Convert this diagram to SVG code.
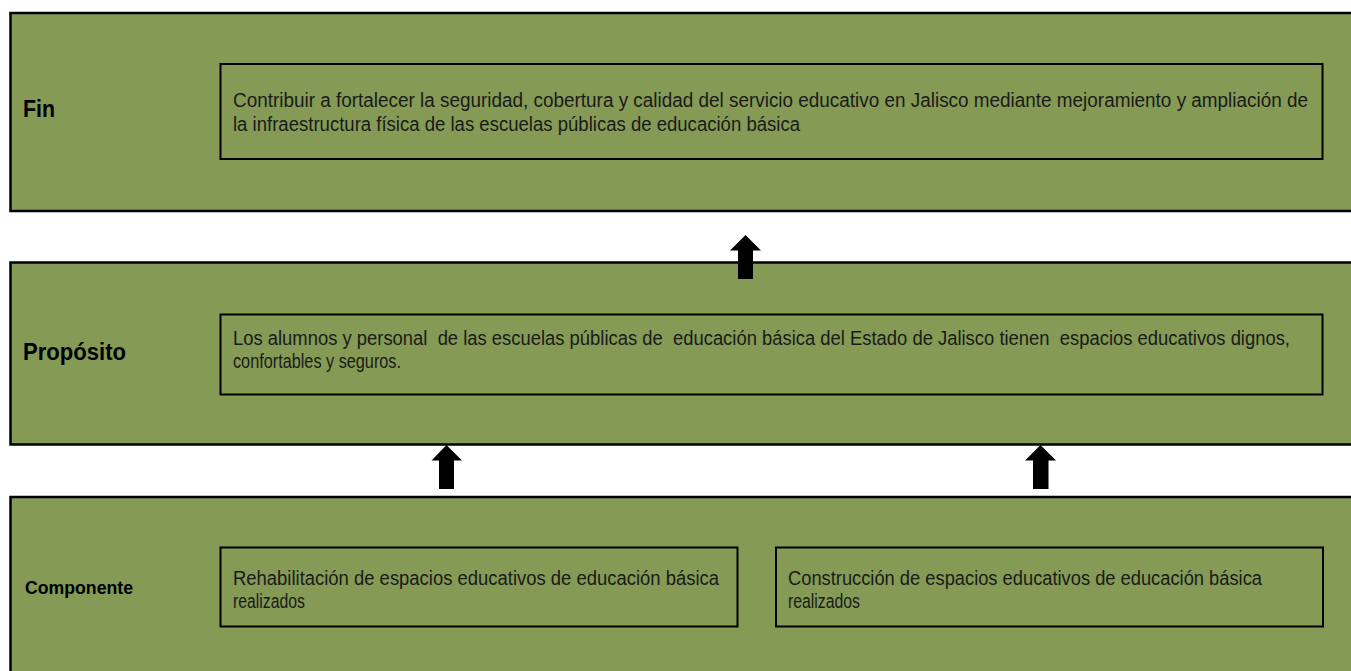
<svg xmlns="http://www.w3.org/2000/svg" width="1351" height="671" viewBox="0 0 1351 671">
<style>
.outer{fill:#849a55;stroke:#000;stroke-width:2.5}
.inner{fill:#849a55;stroke:#000;stroke-width:2}
.lbl{font-family:"Liberation Sans",Arial,sans-serif;font-weight:700;fill:#000}
.txt{font-family:"Liberation Sans",Arial,sans-serif;font-size:20px;fill:#1a1a1a}
.arrow{fill:#000}
</style>
<rect width="1351" height="671" fill="#fff"/>
<g id="fin">
<rect class="outer" x="10.5" y="13" width="1360" height="198"/>
<text class="lbl" x="23" y="117" font-size="23" textLength="32" lengthAdjust="spacingAndGlyphs">Fin</text>
<rect class="inner" x="220.5" y="64" width="1102" height="95"/>
<text class="txt" x="233" y="107" textLength="1075" lengthAdjust="spacingAndGlyphs">Contribuir a fortalecer la seguridad, cobertura y calidad del servicio educativo en Jalisco mediante mejoramiento y ampliación de</text>
<text class="txt" x="233" y="131" textLength="567" lengthAdjust="spacingAndGlyphs">la infraestructura física de las escuelas públicas de educación básica</text>
</g>
<g id="proposito">
<rect class="outer" x="10.5" y="262.5" width="1360" height="182"/>
<text class="lbl" x="23" y="360" font-size="23" textLength="103" lengthAdjust="spacingAndGlyphs">Propósito</text>
<rect class="inner" x="220.5" y="314.5" width="1102" height="80"/>
<text class="txt" x="233" y="345" textLength="1057" lengthAdjust="spacingAndGlyphs" xml:space="preserve">Los alumnos y personal  de las escuelas públicas de  educación básica del Estado de Jalisco tienen  espacios educativos dignos,</text>
<text class="txt" x="233" y="368" textLength="168" lengthAdjust="spacingAndGlyphs">confortables y seguros.</text>
</g>
<g id="componente">
<rect class="outer" x="10.5" y="497" width="1360" height="200"/>
<text class="lbl" x="25" y="594" font-size="18" textLength="108" lengthAdjust="spacingAndGlyphs">Componente</text>
</g>
<g id="comp1">
<rect class="inner" x="220.5" y="547.5" width="517" height="79"/>
<text class="txt" x="233" y="585" textLength="486" lengthAdjust="spacingAndGlyphs">Rehabilitación de espacios educativos de educación básica</text>
<text class="txt" x="233" y="608" textLength="72" lengthAdjust="spacingAndGlyphs">realizados</text>
</g>
<g id="comp2">
<rect class="inner" x="776" y="547.5" width="547" height="79"/>
<text class="txt" x="788" y="585" textLength="474" lengthAdjust="spacingAndGlyphs">Construcción de espacios educativos de educación básica</text>
<text class="txt" x="788" y="608" textLength="72" lengthAdjust="spacingAndGlyphs">realizados</text>
</g>
<g id="connectors">
<path class="arrow" d="M745.5 235 L761 250.5 L753 250.5 L753 279 L738 279 L738 250.5 L730 250.5 Z"/>
<path class="arrow" d="M446.5 445 L462 460.5 L454 460.5 L454 489 L439 489 L439 460.5 L431.5 460.5 Z"/>
<path class="arrow" d="M1040.5 445 L1056 460.5 L1048.5 460.5 L1048.5 489 L1033 489 L1033 460.5 L1025 460.5 Z"/>
</g>
</svg>
